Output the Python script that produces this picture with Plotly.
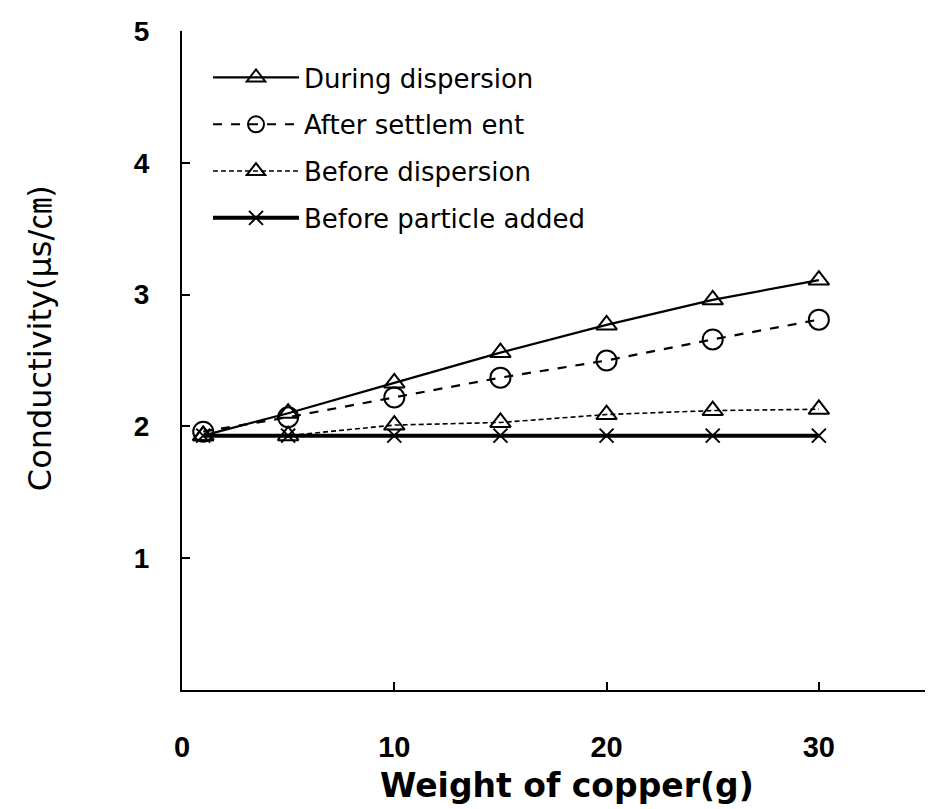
import plotly.graph_objects as go

weights = [1, 5, 10, 15, 20, 25, 30]
during_dispersion = [1.93, 2.10, 2.33, 2.56, 2.77, 2.96, 3.11]
after_settlement = [1.96, 2.07, 2.22, 2.37, 2.50, 2.66, 2.81]
before_dispersion = [1.93, 1.93, 2.01, 2.03, 2.09, 2.12, 2.13]
before_particle = [1.93, 1.93, 1.93, 1.93, 1.93, 1.93, 1.93]

x_ticks = [0, 10, 20, 30]
y_ticks = [1, 2, 3, 4, 5]
x_title = "Weight of copper(g)"
y_title = "Conductivity(μs/㎝)"

fig = go.Figure()
fig.add_trace(go.Scatter(
    x=weights, y=during_dispersion, name="During dispersion", mode="lines+markers",
    line=dict(color="black", width=2.2),
    marker=dict(symbol="triangle-up-open", size=18, color="black", line=dict(width=2)),
    legendgroup="a"))
fig.add_trace(go.Scatter(
    x=weights, y=after_settlement, name="After settlem ent", mode="lines+markers",
    line=dict(color="black", width=2.2, dash="dash"),
    marker=dict(symbol="circle-open", size=20, color="black", line=dict(width=2)),
    legendgroup="b"))
fig.add_trace(go.Scatter(
    x=weights, y=before_dispersion, name="Before dispersion", mode="lines+markers",
    line=dict(color="black", width=1.6, dash="5px,3px"),
    marker=dict(symbol="triangle-up-open", size=18, color="black", line=dict(width=2)),
    legendgroup="c"))
fig.add_trace(go.Scatter(
    x=weights, y=before_particle, name="Before particle added", mode="lines+markers",
    line=dict(color="black", width=4),
    marker=dict(symbol="x-thin", size=14, color="black", line=dict(width=2, color="black")),
    legendgroup="d"))

fig.update_layout(
    width=929, height=809,
    margin=dict(l=182, r=4, t=31, b=119),
    paper_bgcolor="white", plot_bgcolor="white",
    font=dict(family="DejaVu Sans, sans-serif", color="black"),
    showlegend=True,
    legend=dict(
        x=0.035, y=0.965, xanchor="left", yanchor="top",
        bgcolor="rgba(0,0,0,0)", font=dict(size=26, family="DejaVu Sans, sans-serif"),
        tracegroupgap=10, itemwidth=86,
    ),
    xaxis=dict(
        range=[0, 35], tickvals=x_ticks, ticktext=[f"<b>{v}</b>" for v in x_ticks],
        ticks="inside", ticklen=8, tickwidth=2, tickcolor="black",
        showline=True, linecolor="black", linewidth=2, showgrid=False, zeroline=False,
        tickfont=dict(size=29, family="Liberation Sans, Arial, sans-serif"),
        ticklabelstandoff=30, automargin=False,
    ),
    yaxis=dict(
        range=[0, 5], tickvals=y_ticks, ticktext=[f"<b>{v}</b>" for v in y_ticks],
        ticks="inside", ticklen=8, tickwidth=2, tickcolor="black",
        showline=True, linecolor="black", linewidth=2, showgrid=False, zeroline=False,
        tickfont=dict(size=28, family="Liberation Sans, Arial, sans-serif"),
        ticklabelstandoff=25, automargin=False,
    ),
    annotations=[
        dict(text=x_title, xref="paper", yref="paper", x=0.518, y=-0.113,
             xanchor="center", yanchor="top", showarrow=False,
             font=dict(size=33, family="DejaVu Sans, sans-serif", weight="bold")),
        dict(text=y_title, xref="paper", yref="paper", x=-0.191, y=0.534,
             xanchor="center", yanchor="middle", showarrow=False, textangle=-90,
             font=dict(size=32, family="DejaVu Sans, Noto Sans CJK KR, sans-serif")),
    ],
)

fig.write_html("out.html")
